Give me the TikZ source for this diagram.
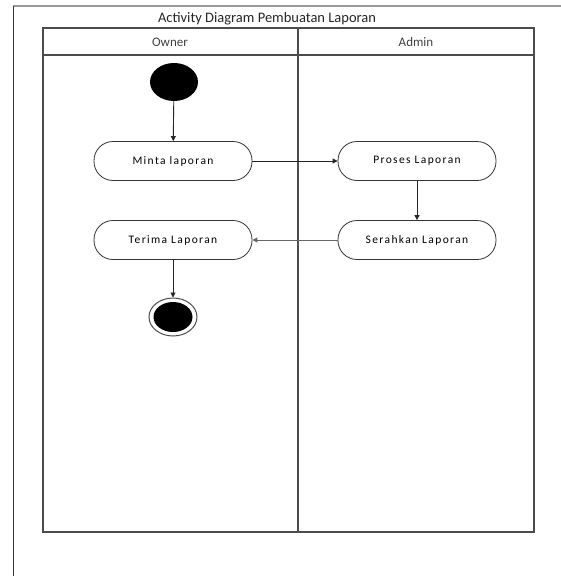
\documentclass[tikz,border=0pt]{standalone}
\usepackage{fontspec}
\setmainfont{Carlito}
\newfontfamily\spacedfont[LetterSpace=12]{Carlito}
\usetikzlibrary{arrows.meta,shapes.geometric}
\tikzset{
  lane/.style={draw=black!70, line width=1.3pt},
  action/.style={draw=black!80, line width=0.8pt, rounded corners=19pt,
    minimum width=158pt, minimum height=39pt, font=\spacedfont\fontsize{11.5}{13}\selectfont, inner sep=0pt},
  flow/.style={draw=black!85, line width=0.9pt, -{Triangle[length=5pt,width=5pt]}},
  header/.style={font=\fontsize{13}{15}\selectfont, text=black!75},
}
\begin{document}
\begin{tikzpicture}[x=1pt,y=-1pt]
  \useasboundingbox (0,0) rectangle (561,576);
  % outer frame
  \draw[black!40, line width=1.2pt] (13,6) -- (561,6);
  \draw[black!80, line width=1pt] (13,6) -- (13,576);
  % title
  \node[font=\fontsize{14.5}{16}\selectfont, text=black!85] (title) at (267,18.5) {Activity Diagram Pembuatan Laporan};
  % swimlanes
  \draw[lane] (43,28) rectangle (534,532);
  \draw[lane] (43,55) -- (534,55);
  \draw[lane] (298,28) -- (298,532);
  \node[header] (owner) at (170,42) {Owner};
  \node[header] (admin) at (416,42) {Admin};
  % activity nodes
  \node[ellipse, fill=black, minimum width=48pt, minimum height=38pt, inner sep=0pt] (start) at (174,82) {};
  \node[action] (minta) at (173,161) {Minta laporan};
  \node[action] (proses) at (417,161) {Proses Laporan};
  \node[action] (serah) at (417,240) {Serahkan Laporan};
  \node[action] (terima) at (173,240) {Terima Laporan};
  \node[ellipse, draw=black!70, line width=1pt, minimum width=48pt, minimum height=38pt, inner sep=0pt] (end) at (173,317) {};
  \node[ellipse, fill=black, minimum width=39pt, minimum height=30pt, inner sep=0pt] at (end.center) {};
  % flows
  \draw[flow] (start) -- (minta);
  \draw[flow] (minta) -- (proses);
  \draw[flow] (proses) -- (serah);
  \draw[flow, draw=black!60] (serah) -- (terima);
  \draw[flow] (terima) -- (end);
\end{tikzpicture}
\end{document}
